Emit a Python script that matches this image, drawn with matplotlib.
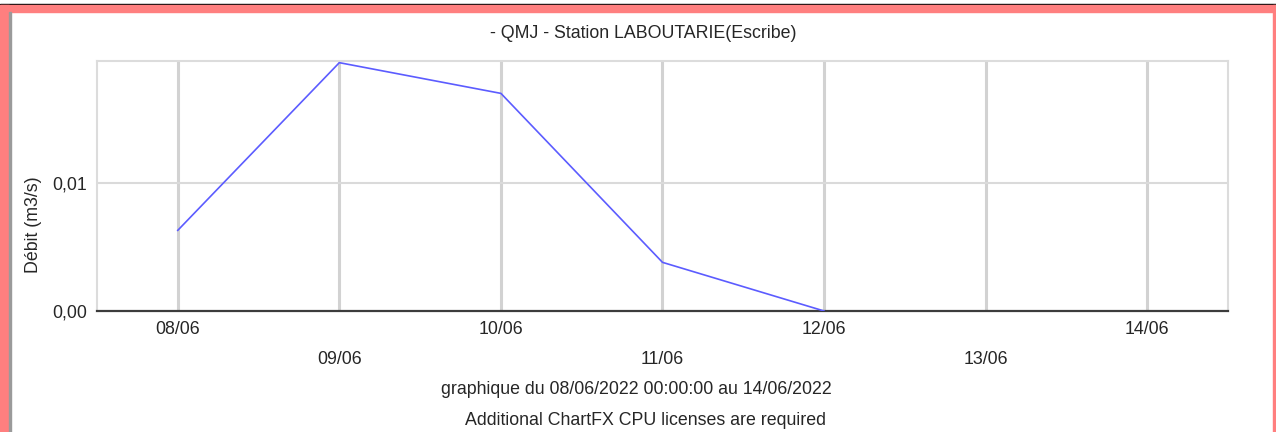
import matplotlib
matplotlib.use("Agg")
import matplotlib.pyplot as plt
from matplotlib.patches import Rectangle
import numpy as np

plt.rcParams["font.family"] = ["Liberation Sans", "DejaVu Sans"]

# data
day_labels = ["08/06", "09/06", "10/06", "11/06", "12/06", "13/06", "14/06"]
debit = [0.0063, 0.0194, 0.0170, 0.0038, 0.0]        # m3/s, only first five days
y_ticks = [0.0, 0.01]
y_tick_labels = ["0,00", "0,01"]

title = "- QMJ - Station LABOUTARIE(Escribe)"
subtitle = "graphique du 08/06/2022 00:00:00 au 14/06/2022"
license_note = "Additional ChartFX CPU licenses are required"

TXT = "#262626"
FS = 12.8

fig = plt.figure(figsize=(12.76, 4.32), dpi=100)
ax = fig.add_axes([0.0760, 0.2801, 0.8864, 0.5787])

days = np.arange(len(day_labels))
ax.plot(days[:len(debit)], debit, color="#5c5cff", lw=1.2, zorder=3)

ax.set_xlim(-0.5, len(day_labels) - 0.5)
ax.set_ylim(0, 0.01953)
ax.set_xticks(days)
ax.set_xticklabels(day_labels, fontsize=FS, color=TXT)
ax.set_yticks(y_ticks)
ax.set_yticklabels(y_tick_labels, fontsize=FS, color=TXT)
ax.tick_params(axis="both", length=0)
ax.tick_params(axis="y", pad=7)

# staggered date labels
for i, t in enumerate(ax.xaxis.get_major_ticks()):
    t.set_pad(7 if i % 2 == 0 else 29)

for d in days:
    ax.axvline(d, color="#d2d2d2", lw=2.2, zorder=1)
ax.axhline(0.01, color="#dadada", lw=1.5, zorder=1)

for s in ("top", "left", "right"):
    ax.spines[s].set_color("#dcdcdc")
    ax.spines[s].set_linewidth(1.5)
ax.spines["bottom"].set_color("#3c3c3c")
ax.spines["bottom"].set_linewidth(1.6)

ax.set_ylabel("Débit (m3/s)", fontsize=FS, color=TXT)
ax.yaxis.set_label_coords(-0.049, 0.345)

fig.text(0.504, 0.9236, title, ha="center", va="center", fontsize=FS, color=TXT)
fig.text(0.4984, 0.0995, subtitle, ha="center", va="center", fontsize=FS, color=TXT)
fig.text(0.5055, 0.0255, license_note, ha="center", va="center", fontsize=FS, color=TXT)

# window frame: black hairline + pink border
W, H = 1276, 432
pink = "#ff7f7f"
fig.patches.append(Rectangle((0, 1 - 5 / H), 1, 1.2 / H, transform=fig.transFigure, color="black"))
fig.patches.append(Rectangle((0, 1 - 11.5 / H), 1, 6.5 / H, transform=fig.transFigure, color=pink))
fig.patches.append(Rectangle((0, 0), 9 / W, 1 - 5 / H, transform=fig.transFigure, color=pink))
fig.patches.append(Rectangle((9 / W, 0), 2 / W, 1 - 11.5 / H, transform=fig.transFigure, color="#9a9a9a"))
fig.patches.append(Rectangle((1 - 3 / W, 0), 3 / W, 1 - 5 / H, transform=fig.transFigure, color=pink))

fig.savefig("out.png", dpi=100)
